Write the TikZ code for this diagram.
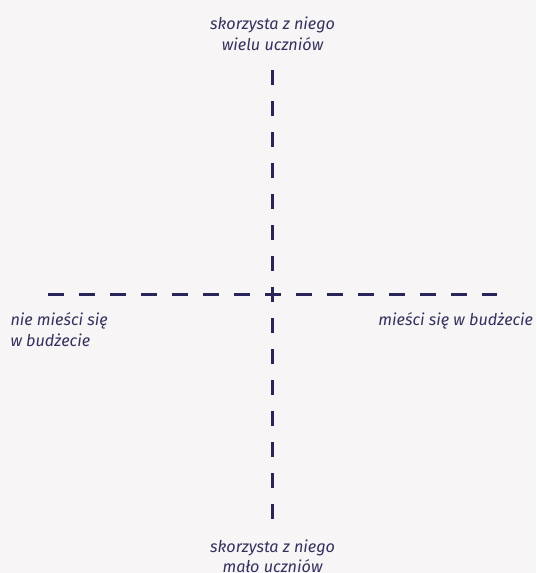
\documentclass[tikz,border=0pt]{standalone}
\usepackage{fontspec}
\setsansfont{Fira Sans}
\usetikzlibrary{positioning}

\definecolor{axisnavy}{HTML}{29255A}
\definecolor{labelnavy}{HTML}{35315F}
\definecolor{paper}{HTML}{F7F5F5}

\begin{document}
\begin{tikzpicture}[
    x=1pt, y=-1pt,
    axis/.style={draw=axisnavy, line width=3.6pt, dash pattern=on 15.4pt off 15.6pt},
    label/.style={font=\sffamily\itshape\fontsize{16.2}{20.7}\selectfont, text=labelnavy, inner sep=0pt},
]
% page
\fill[paper] (0,0) rectangle (536,573);
\useasboundingbox (0,0) rectangle (536,573);

% axis ends
\coordinate (west) at (48.3,294.4);
\coordinate (east) at (497.3,294.4);
\coordinate (north) at (272.6,70);
\coordinate (south) at (272.6,519.3);

% axes (dashed)
\draw[axis] (west) -- (east);
\draw[axis] (north) -- (south);

% Labels
\node[label, align=center, above=19pt of north] (many) {skorzysta z niego\\wielu uczniów};
\node[label, align=center, below=20pt of south] (few) {skorzysta z niego\\mało uczniów};
\node[label, align=left, below right=18pt and -38pt of west] (over) {nie mieści się\\w budżecie};
\node[label, below left=18pt and -36pt of east] (within) {mieści się w budżecie};
\end{tikzpicture}
\end{document}
